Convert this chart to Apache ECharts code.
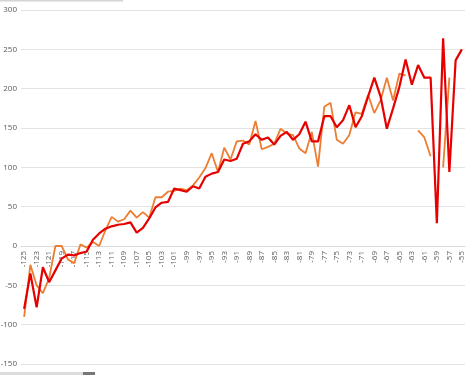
<!DOCTYPE html>
<html>
<head>
<meta charset="utf-8">
<script src="https://cdn.jsdelivr.net/npm/echarts@6/dist/echarts.min.js"></script>
<style>
  html, body { margin: 0; padding: 0; background: #fff; }
  #main { width: 468px; height: 375px; }
</style>
</head>
<body>
<div id="main"></div>
<script>
// categories -125 .. -55
let years = [];
for (let y = -125; y <= -55; y++) years.push(String(y));

let orangeVals = [
  -90, -24, -50, -60, -41, 0, 0, -17, -22, 2,
  -2, 5, 0, 20, 37, 31, 34, 45, 36, 43,
  36, 62, 62, 69, 70, 73, 71, 77, 87, 99,
  118, 94, 125, 110, 133, 134, 129, 159, 123, 126,
  130, 149, 143, 141, 124, 118, 145, 101, 177, 182,
  135, 130, 141, 170, 168, 192, 169, 185, 214, 185,
  219, 217, null, 147, 138, 114, null, 100, 214, null,
  null
];

let redVals = [
  -80, -35, -78, -27, -46, -31, -16, -11, -12, -9,
  -7, 8, 16, 22, 25, 27, 28, 30, 17, 23,
  35, 49, 55, 56, 73, 71, 69, 76, 73, 88,
  92, 94, 110, 108, 111, 130, 133, 142, 135, 138,
  129, 140, 145, 135, 142, 158, 133, 133, 165, 165,
  151, 160, 179, 151, 165, 190, 214, 190, 149, 175,
  202, 237, 205, 230, 214, 214, 29, 264, 94, 236,
  250
];

let myChart = echarts.init(document.getElementById('main'));

// plot runs y=10..364, so zero sits 118px above the bottom edge
let option = {
    animation: false,
    grid: { left: 21, right: 3, top: 10, bottom: 11, outerBoundsMode: 'none', containLabel: false },
    xAxis: {
        type: 'category',
        data: years,
        boundaryGap: true,
        offset: -118,
        axisLine: { onZero: false, lineStyle: { color: '#d9d9d9', width: 1 } },
        axisTick: { show: false },
        axisLabel: {
            interval: 1,
            rotate: 90,
            margin: 5,
            fontSize: 8,
            color: '#595959',
            fontFamily: 'Open Sans'
        },
        splitLine: { show: false }
    },
    yAxis: {
        type: 'value',
        min: -150,
        max: 300,
        interval: 50,
        axisLine: { show: false },
        axisTick: { show: false },
        axisLabel: { margin: 4, fontSize: 8, color: '#595959', fontFamily: 'Open Sans' },
        splitLine: { lineStyle: { color: '#e3e3e3', width: 1 } }
    },
    series: [
        {
            type: 'line',
            data: orangeVals,
            symbol: 'none',
            connectNulls: false,
            lineStyle: { color: '#ed7d31', width: 1.8 },
            z: 2
        },
        {
            type: 'line',
            data: redVals,
            symbol: 'none',
            lineStyle: { color: '#e60000', width: 2.2 },
            z: 3
        }
    ],
    graphic: [
        { type: 'rect', left: 0, top: 0, shape: { width: 123, height: 1.5 }, style: { fill: '#d4d4d4' } },
        { type: 'rect', left: 0, top: 372, shape: { width: 83, height: 3 }, style: { fill: '#dcdcdc' } },
        { type: 'rect', left: 83, top: 372, shape: { width: 12, height: 3 }, style: { fill: '#777777' } }
    ]
};
myChart.setOption(option);
</script>
</body>
</html>
